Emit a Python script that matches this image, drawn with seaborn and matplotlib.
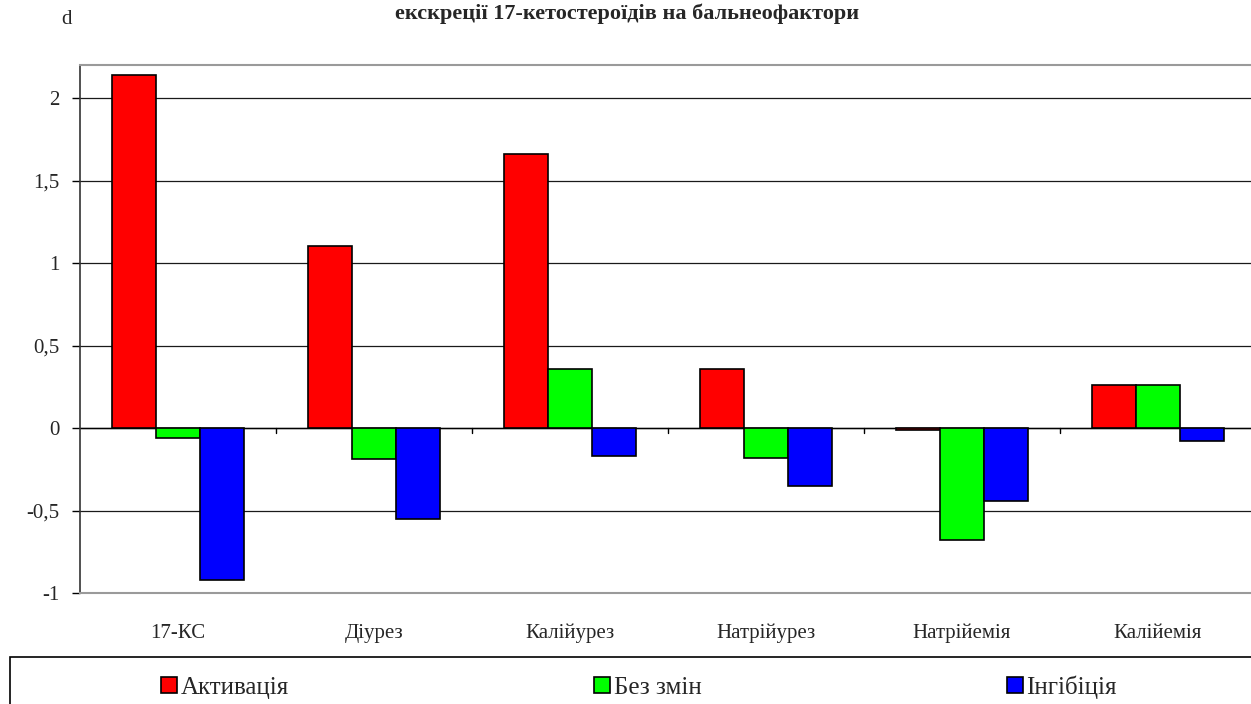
import matplotlib
matplotlib.use("Agg")
import matplotlib.pyplot as plt
from matplotlib.patches import Patch, Rectangle
from matplotlib.ticker import FuncFormatter, FixedLocator
import numpy as np
import pandas as pd
import seaborn as sns

# Effect size d of each indicator, by response type
categories = ["17-КС", "Діурез", "Калійурез", "Натрійурез", "Натрійемія", "Калійемія"]
series_names = ["Активація", "Без змін", "Інгібіція"]
activation = [2.14, 1.10, 1.66, 0.36, -0.01, 0.26]
no_change = [-0.06, -0.19, 0.36, -0.18, -0.68, 0.26]
inhibition = [-0.92, -0.55, -0.17, -0.35, -0.44, -0.08]
series_colors = ["#ff0000", "#00ff00", "#0000ff"]
y_ticks = [-1, -0.5, 0, 0.5, 1, 1.5, 2]
title = "екскреції 17-кетостероїдів на бальнеофактори"
y_label = "d"

df = pd.DataFrame({
    "category": categories * 3,
    "series": [series_names[0]] * 6 + [series_names[1]] * 6 + [series_names[2]] * 6,
    "value": activation + no_change + inhibition,
})

sns.set_style("white")
plt.rcParams["font.family"] = ["Liberation Serif", "DejaVu Serif"]

W, H = 1251, 704
fig = plt.figure(figsize=(W / 100, H / 100), dpi=100)
ax = fig.add_axes([80 / W, (H - 593) / H, (1256 - 80) / W, (593 - 65) / H])

sns.barplot(data=df, x="category", y="value", hue="series", order=categories,
            hue_order=series_names, palette=series_colors, saturation=1,
            width=0.67, gap=0, edgecolor="black", linewidth=1.2,
            errorbar=None, legend=False, ax=ax, zorder=3)

ax.set_xlim(-0.5, len(categories) - 0.5)
ax.set_ylim(-1, 2.2)

# horizontal gridlines
ax.yaxis.set_major_locator(FixedLocator(y_ticks))
ax.yaxis.set_major_formatter(FuncFormatter(lambda v, p: f"{v:g}".replace(".", ",")))
for v in y_ticks[1:]:
    ax.axhline(v, color="#1a1a1a", lw=0.9, zorder=1)

# category axis drawn through zero with boundary tick marks
ax.axhline(0, color="black", lw=1.0, zorder=2)
for b in np.arange(len(categories) - 1) + 0.5:
    ax.plot([b, b], [0, -0.03], color="black", lw=1.0, zorder=2)

ax.set_xlabel("")
ax.set_ylabel("")
ax.tick_params(axis="x", length=0, pad=22, labelsize=15)
ax.tick_params(axis="y", length=6, width=1, color="black", direction="out",
               left=True, pad=9, labelsize=15)

for s in ["top", "bottom"]:
    ax.spines[s].set_color("#9a9a9a")
    ax.spines[s].set_linewidth(1.5)
ax.spines["left"].set_color("#333333")
ax.spines["left"].set_linewidth(1.2)
ax.spines["right"].set_visible(False)

fig.text(627 / W, 1 - 19 / H, title, ha="center", va="baseline",
         fontsize=16, fontweight="bold")
fig.text(66 / W, 1 - 20 / H, y_label, ha="center", va="center", fontsize=15)

# legend frame and entries
fig.add_artist(Rectangle((10 / W, -0.05), 1.2, 0.05 + (H - 657) / H,
                         transform=fig.transFigure, fill=False,
                         edgecolor="black", lw=1.2))
handles = [Patch(facecolor=c, edgecolor="black", lw=1.2) for c in series_colors]
fig.legend(handles, series_names, loc="center left", ncol=3, mode="expand",
           bbox_to_anchor=(161 / W, (H - 701) / H, (1117 - 161) / W, 28 / H),
           frameon=False, fontsize=18, handlelength=0.65, handleheight=0.65,
           handletextpad=0.15, borderpad=0, borderaxespad=0)

fig.savefig("out.png", dpi=100)
